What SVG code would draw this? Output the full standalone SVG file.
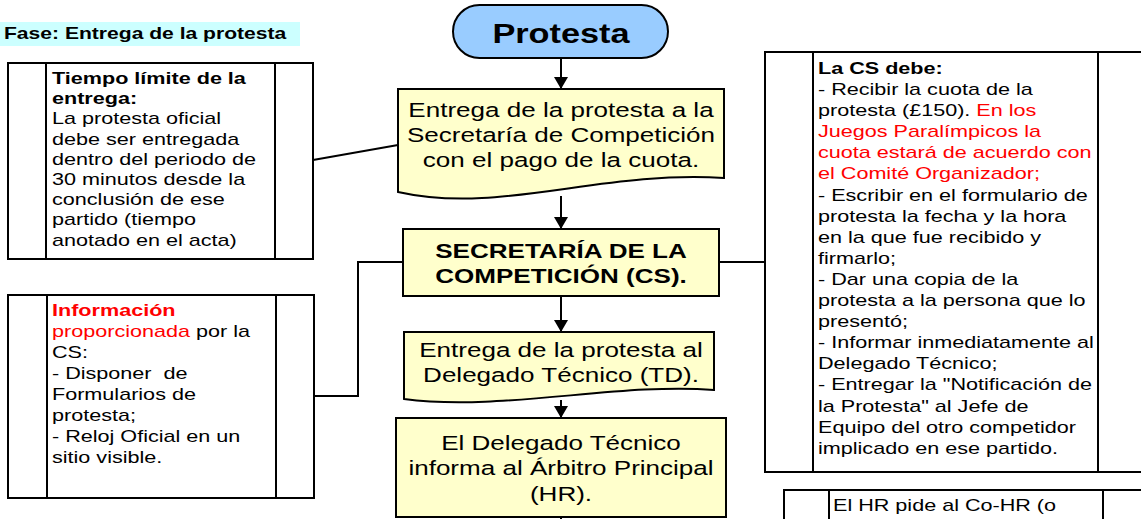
<svg xmlns="http://www.w3.org/2000/svg" width="1141" height="519" viewBox="0 0 1141 519">
<style>
.t{font-family:"Liberation Sans",Arial,sans-serif;fill:#000}
.s17{font-size:17px}
.c{text-anchor:middle}
.b{font-weight:bold}
.r{fill:#ff0000}
.box{fill:#fff;stroke:#000;stroke-width:2}
.y{fill:#ffffcc;stroke:#000;stroke-width:2}
.ln{fill:none;stroke:#000;stroke-width:2}
</style>
<defs>
<marker id="ah" markerUnits="userSpaceOnUse" markerWidth="14" markerHeight="14" refX="12" refY="7" orient="auto">
<path d="M0,0 L12,7 L0,14 Z" fill="#000"/>
</marker>
</defs>
<rect width="1141" height="519" fill="#fff"/>

<g id="title">
<rect x="0" y="22" width="300" height="24" fill="#ccffff"/>
<g transform="translate(4 0) scale(1.27 1)"><text class="t b" x="0" y="39" font-size="16.6">Fase: Entrega de la protesta</text></g>
</g>

<g id="connectors">
<line class="ln" x1="561" y1="58" x2="561" y2="89" marker-end="url(#ah)"/>
<line class="ln" x1="561" y1="196" x2="561" y2="229" marker-end="url(#ah)"/>
<line class="ln" x1="561" y1="296" x2="561" y2="332" marker-end="url(#ah)"/>
<line class="ln" x1="561" y1="400" x2="561" y2="418" marker-end="url(#ah)"/>
<line class="ln" x1="561" y1="517" x2="561" y2="519"/>
<line class="ln" x1="313" y1="160" x2="398" y2="145"/>
<polyline class="ln" points="314,396 358,396 358,262 403,262"/>
<line class="ln" x1="719" y1="262" x2="765" y2="262"/>
</g>

<g id="node-protesta">
<rect x="453" y="5" width="215" height="53" rx="26.5" fill="#99ccff" stroke="#000" stroke-width="2"/>
<g transform="translate(561 0) scale(1.27 1)"><text class="t b c" x="0" y="43" font-size="27">Protesta</text></g>
</g>

<g id="node-entrega-cs">
<path class="y" d="M398,89 H724 V178 C600,170 500,215 398,192 Z"/>
<g transform="translate(561 0) scale(1.27 1)">
<text class="t c" x="0" y="117" font-size="20.5">Entrega de la protesta a la</text>
<text class="t c" x="0" y="142" font-size="20.5">Secretaría de Competición</text>
<text class="t c" x="0" y="167" font-size="20.5">con el pago de la cuota.</text>
</g>
</g>

<g id="node-secretaria">
<rect class="y" x="403" y="229" width="316" height="67"/>
<g transform="translate(561 0) scale(1.27 1)">
<text class="t b c" x="0" y="258" font-size="20.5">SECRETARÍA DE LA</text>
<text class="t b c" x="0" y="283" font-size="20.5">COMPETICIÓN (CS).</text>
</g>
</g>

<g id="node-entrega-td">
<path class="y" d="M404,332 H714 V390 C620,382 500,412 404,399 Z"/>
<g transform="translate(561 0) scale(1.27 1)">
<text class="t c" x="0" y="357" font-size="20.5">Entrega de la protesta al</text>
<text class="t c" x="0" y="382" font-size="20.5">Delegado Técnico (TD).</text>
</g>
</g>

<g id="node-hr">
<rect class="y" x="396" y="418" width="330" height="99"/>
<g transform="translate(561 0) scale(1.27 1)">
<text class="t c" x="0" y="450" font-size="20.5">El Delegado Técnico</text>
<text class="t c" x="0" y="475.5" font-size="20.5">informa al Árbitro Principal</text>
<text class="t c" x="0" y="501" font-size="20.5">(HR).</text>
</g>
</g>

<g id="node-tiempo">
<rect class="box" x="8" y="63" width="305" height="196"/>
<line class="ln" x1="46" y1="63" x2="46" y2="259"/>
<line class="ln" x1="275" y1="63" x2="275" y2="259"/>
<g transform="translate(52 0) scale(1.27 1)">
<text class="t s17 b" x="0" y="84">Tiempo límite de la</text>
<text class="t s17 b" x="0" y="104.2">entrega:</text>
<text class="t s17" x="0" y="124.4">La protesta oficial</text>
<text class="t s17" x="0" y="144.6">debe ser entregada</text>
<text class="t s17" x="0" y="164.8">dentro del periodo de</text>
<text class="t s17" x="0" y="185">30 minutos desde la</text>
<text class="t s17" x="0" y="205.2">conclusión de ese</text>
<text class="t s17" x="0" y="225.4">partido (tiempo</text>
<text class="t s17" x="0" y="245.6">anotado en el acta)</text>
</g>
</g>

<g id="node-informacion">
<rect class="box" x="8" y="295" width="306" height="203"/>
<line class="ln" x1="47" y1="295" x2="47" y2="498"/>
<line class="ln" x1="276" y1="295" x2="276" y2="498"/>
<g transform="translate(52 0) scale(1.27 1)">
<text class="t s17 b r" x="0" y="316">Información</text>
<text class="t s17" x="0" y="337"><tspan class="r">proporcionada</tspan> por la</text>
<text class="t s17" x="0" y="358">CS:</text>
<text class="t s17" x="0" y="379" xml:space="preserve">- Disponer  de</text>
<text class="t s17" x="0" y="400">Formularios de</text>
<text class="t s17" x="0" y="421">protesta;</text>
<text class="t s17" x="0" y="442">- Reloj Oficial en un</text>
<text class="t s17" x="0" y="463">sitio visible.</text>
</g>
</g>

<g id="node-cs-debe">
<rect class="box" x="765" y="52" width="420" height="420"/>
<line class="ln" x1="813" y1="52" x2="813" y2="472"/>
<line class="ln" x1="1098" y1="52" x2="1098" y2="472"/>
<g transform="translate(818 0) scale(1.27 1)">
<text class="t s17 b" x="0" y="74">La CS debe:</text>
<text class="t s17" x="0" y="95.1">- Recibir la cuota de la</text>
<text class="t s17" x="0" y="116.2">protesta (£150). <tspan class="r">En los</tspan></text>
<text class="t s17 r" x="0" y="137.3">Juegos Paralímpicos la</text>
<text class="t s17 r" x="0" y="158.4">cuota estará de acuerdo con</text>
<text class="t s17 r" x="0" y="179.5">el Comité Organizador;</text>
<text class="t s17" x="0" y="200.6">- Escribir en el formulario de</text>
<text class="t s17" x="0" y="221.7">protesta la fecha y la hora</text>
<text class="t s17" x="0" y="242.8">en la que fue recibido y</text>
<text class="t s17" x="0" y="263.9">firmarlo;</text>
<text class="t s17" x="0" y="285">- Dar una copia de la</text>
<text class="t s17" x="0" y="306.1">protesta a la persona que lo</text>
<text class="t s17" x="0" y="327.2">presentó;</text>
<text class="t s17" x="0" y="348.3">- Informar inmediatamente al</text>
<text class="t s17" x="0" y="369.4">Delegado Técnico;</text>
<text class="t s17" x="0" y="390.5">- Entregar la "Notificación de</text>
<text class="t s17" x="0" y="411.6">la Protesta" al Jefe de</text>
<text class="t s17" x="0" y="432.7">Equipo del otro competidor</text>
<text class="t s17" x="0" y="453.8">implicado en ese partido.</text>
</g>
</g>

<g id="node-hr-pide">
<rect class="box" x="784" y="490" width="420" height="100"/>
<line class="ln" x1="829" y1="490" x2="829" y2="519"/>
<line class="ln" x1="1103" y1="490" x2="1103" y2="519"/>
<g transform="translate(833 0) scale(1.27 1)">
<text class="t s17" x="0" y="511">El HR pide al Co-HR (o</text>
</g>
</g>
</svg>
